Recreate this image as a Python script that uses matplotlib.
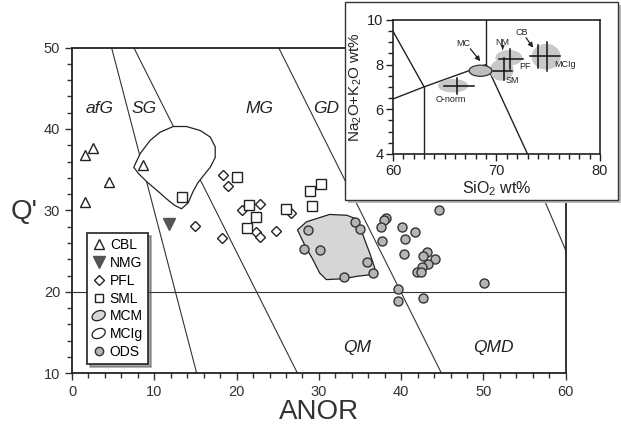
import matplotlib
matplotlib.use("Agg")
import matplotlib.pyplot as plt
from matplotlib.lines import Line2D
from matplotlib.patches import Polygon, Ellipse, Rectangle, Patch
from matplotlib.legend_handler import HandlerPatch
from matplotlib.ticker import MultipleLocator

plt.rcParams['font.family'] = ['Liberation Sans', 'DejaVu Sans']
plt.rcParams['mathtext.fontset'] = 'custom'
plt.rcParams['mathtext.rm'] = 'Liberation Sans'

# ---- data: Q' vs ANOR ----
cbl_x = [1.6, 2.5, 4.5, 1.6, 8.6]
cbl_y = [36.8, 37.7, 33.5, 31.0, 35.6]
nmg_x = [11.8]
nmg_y = [28.3]
pfl_x = [18.4, 18.9, 14.9, 18.2, 20.7, 22.9, 22.4, 22.8, 24.8, 26.6]
pfl_y = [34.3, 33.0, 28.1, 26.6, 30.1, 30.8, 27.4, 26.7, 27.5, 29.7]
sml_x = [20.0, 13.4, 21.5, 22.4, 21.3, 26.0, 28.9, 30.3, 29.2]
sml_y = [34.1, 31.7, 30.7, 29.2, 27.8, 30.2, 32.4, 33.3, 30.5]
ods_x = [28.7, 28.2, 30.1, 34.4, 35.0, 35.9, 36.6, 33.1, 38.2, 37.9, 37.5, 37.7,
         40.1, 40.5, 41.7, 40.3, 43.1, 42.6, 44.1, 43.3, 42.5, 41.9, 42.4, 44.6,
         50.1, 39.6, 39.6, 42.7]
ods_y = [27.6, 25.2, 25.1, 28.6, 27.7, 23.7, 22.3, 21.8, 29.1, 28.8, 27.9, 26.2,
         27.9, 26.5, 27.4, 24.7, 24.9, 24.4, 24.0, 23.4, 23.1, 22.4, 22.4, 30.0,
         21.1, 20.4, 18.9, 19.2]

# MCM field (grey) and MCIg field (outline)
mcm_x = [27.4, 28.5, 31.3, 33.4, 34.4, 35.0, 35.6, 36.2, 36.8, 36.3, 34.6, 33.0,
         30.9, 30.1, 29.3, 28.3]
mcm_y = [27.6, 28.6, 29.5, 29.4, 29.0, 28.0, 26.3, 24.7, 22.9, 22.1, 21.9, 21.6,
         21.5, 22.3, 23.9, 25.7]
mclg_x = [7.5, 8.3, 9.5, 10.7, 12.3, 13.9, 15.6, 16.8, 17.4, 17.4, 16.8, 16.0,
          15.3, 14.7, 14.1, 13.3, 12.5, 11.5, 10.5, 9.1, 8.1]
mclg_y = [35.3, 37.0, 38.6, 39.6, 40.3, 40.3, 39.8, 39.0, 37.8, 36.5, 35.3, 34.3,
          33.4, 32.3, 30.9, 30.2, 30.6, 31.4, 32.3, 33.5, 34.5]

# field boundaries
bnd_x = [[4.8, 15.15], [7.5, 27.4], [25.1, 44.9], [49.5, 60.0], [0, 60]]
bnd_y = [[50, 10], [50, 10], [50, 10], [50, 25.1], [20, 20]]
field_names = ["afG", "SG", "MG", "GD", "QM", "QMD"]
field_x = [3.3, 8.75, 22.8, 30.9, 34.7, 51.2]
field_y = [42.5, 42.5, 42.5, 42.5, 13.1, 13.1]

# ---- inset: TAS ----
tas_x = [[60, 63], [63, 63], [60, 63, 69], [69, 69], [69, 73]]
tas_y = [[9.48, 7.0], [7.0, 4.0], [6.46, 7.0, 8.0], [8.0, 10.0], [8.0, 4.0]]
blob_x = [65.8, 70.5, 71.2, 74.8]
blob_y = [7.05, 7.75, 8.3, 8.35]
blob_w = [2.9, 2.3, 2.6, 2.8]
blob_h = [0.6, 0.95, 0.7, 1.15]
cross_h = [(64.9, 67.8, 7.05), (69.7, 71.5, 7.72), (70.2, 72.6, 8.24), (73.2, 76.1, 8.39)]
cross_v = [(66.2, 6.7, 7.4), (70.7, 7.3, 8.3), (71.3, 7.8, 8.7), (74.0, 7.85, 8.85), (74.9, 7.7, 9.0)]
inset_labels = ["MC", "NM", "PF", "SM", "CB", "MCIg", "O-norm"]
inset_lx = [66.8, 70.6, 72.75, 71.5, 72.4, 76.6, 65.6]
inset_ly = [8.95, 8.98, 7.9, 7.3, 9.45, 7.98, 6.45]

LINE = "#333333"


class HandlerBlob(HandlerPatch):
    def create_artists(self, legend, orig_handle, xdescent, ydescent, width, height, fontsize, trans):
        e = Ellipse((width / 2 - xdescent, height / 2 - ydescent), width * 1.0, height * 0.95,
                    angle=25)
        self.update_prop(e, orig_handle, legend)
        e.set_transform(trans)
        return [e]


fig = plt.figure(figsize=(6.21, 4.30), dpi=100)
ax = fig.add_axes([0.116, 0.132, 0.795, 0.7575])

for bx, by in zip(bnd_x, bnd_y):
    ax.plot(bx, by, color=LINE, lw=0.8, zorder=1)

ax.add_patch(Polygon(list(zip(mclg_x, mclg_y)), closed=True, fc="white", ec="#222222",
                     lw=0.9, joinstyle="round", zorder=2))
ax.add_patch(Polygon(list(zip(mcm_x, mcm_y)), closed=True, fc="#d6d6d6", ec="#222222",
                     lw=0.9, joinstyle="round", zorder=2))

ax.plot(cbl_x, cbl_y, "^", ms=7.5, mfc="white", mec="#222222", mew=1.0, ls="none", zorder=3)
ax.plot(nmg_x, nmg_y, "v", ms=8, mfc="#555555", mec="#555555", ls="none", zorder=3)
ax.plot(pfl_x, pfl_y, "D", ms=5.5, mfc="white", mec="#222222", mew=1.0, ls="none", zorder=3)
ax.plot(sml_x, sml_y, "s", ms=6.5, mfc="white", mec="#222222", mew=1.0, ls="none", zorder=3)
ax.plot(ods_x, ods_y, "o", ms=6.5, mfc="#b5b5b5", mec="#333333", mew=1.0, ls="none", zorder=3)

for name, fx, fy in zip(field_names, field_x, field_y):
    ax.text(fx, fy, name, style="italic", fontsize=12.5, ha="center", va="center", color="#222222")

ax.set_xlim(0, 60)
ax.set_ylim(10, 50)
ax.xaxis.set_major_locator(MultipleLocator(10))
ax.xaxis.set_minor_locator(MultipleLocator(2))
ax.yaxis.set_major_locator(MultipleLocator(10))
ax.yaxis.set_minor_locator(MultipleLocator(2))
ax.tick_params(which="both", direction="out", labelsize=10.5, colors="#333333")
ax.tick_params(which="major", length=5, width=1.0)
ax.tick_params(which="minor", length=3.5, width=1.0)
for s in ax.spines.values():
    s.set_linewidth(1.3)
    s.set_color("#222222")

ax.set_xlabel("ANOR", fontsize=20, color="#333333")
ax.xaxis.set_label_coords(0.5, -0.118)
ax.xaxis.label.set_va("center")
ax.set_ylabel("Q'", fontsize=20, rotation=0, color="#333333")
ax.yaxis.set_label_coords(-0.097, 0.495)
ax.yaxis.label.set_va("center")
ax.yaxis.label.set_ha("center")

handles = [
    Line2D([], [], marker="^", ms=7, mfc="white", mec="#222222", ls="none"),
    Line2D([], [], marker="v", ms=8, mfc="#555555", mec="#555555", ls="none"),
    Line2D([], [], marker="D", ms=5.5, mfc="white", mec="#222222", ls="none"),
    Line2D([], [], marker="s", ms=5.5, mfc="white", mec="#222222", ls="none"),
    Patch(fc="#d6d6d6", ec="#222222", lw=0.9),
    Patch(fc="white", ec="#222222", lw=0.9),
    Line2D([], [], marker="o", ms=6, mfc="#b5b5b5", mec="#333333", ls="none"),
]
labels = ["CBL", "NMG", "PFL", "SML", "MCM", "MCIg", "ODS"]
leg = ax.legend(handles, labels, loc="lower left", bbox_to_anchor=(0.03, 0.028),
                fontsize=10, handlelength=1.0, handletextpad=0.3, labelspacing=0.28,
                borderpad=0.35, borderaxespad=0, fancybox=False, shadow=True,
                framealpha=1, edgecolor="#222222",
                handler_map={Patch: HandlerBlob()})
leg.get_frame().set_linewidth(1.2)

# ---- inset ----
fig.patches.append(Rectangle((0.561, 0.528), 0.4396, 0.461, transform=fig.transFigure,
                             fc="#bbbbbb", ec="none", zorder=4, figure=fig))
fig.patches.append(Rectangle((0.5556, 0.535), 0.4396, 0.461, transform=fig.transFigure,
                             fc="white", ec="#333333", lw=1.0, zorder=5, figure=fig))

ins = fig.add_axes([0.633, 0.642, 0.333, 0.312], zorder=6)
for tx, ty in zip(tas_x, tas_y):
    ins.plot(tx, ty, color="#222222", lw=1.0, zorder=1)
for bx, by, bw, bh in zip(blob_x, blob_y, blob_w, blob_h):
    ins.add_patch(Ellipse((bx, by), bw, bh, fc="#c8c8c8", ec="none", hatch="....", zorder=2))
ins.add_patch(Ellipse((68.45, 7.72), 2.2, 0.5, fc="#bdbdbd", ec="#333333", lw=0.9, zorder=3))
for x0, x1, yy in cross_h:
    ins.plot([x0, x1], [yy, yy], color="#111111", lw=1.1, zorder=4)
for xx, y0, y1 in cross_v:
    ins.plot([xx, xx], [y0, y1], color="#111111", lw=1.1, zorder=4)
for t, lx, ly in zip(inset_labels, inset_lx, inset_ly):
    ins.text(lx, ly, t, fontsize=6.5, ha="center", va="center", color="#222222", zorder=5)
ins.annotate("", xy=(68.6, 8.05), xytext=(67.3, 8.8),
             arrowprops=dict(arrowstyle="-|>", color="#222222", lw=0.9, mutation_scale=7))
ins.annotate("", xy=(73.7, 8.65), xytext=(72.7, 9.3),
             arrowprops=dict(arrowstyle="-|>", color="#222222", lw=0.9, mutation_scale=7))
ins.annotate("", xy=(70.6, 8.55), xytext=(70.6, 8.82),
             arrowprops=dict(arrowstyle="-|>", color="#222222", lw=0.7, mutation_scale=5))

ins.set_xlim(60, 80)
ins.set_ylim(4, 10)
ins.xaxis.set_major_locator(MultipleLocator(10))
ins.xaxis.set_minor_locator(MultipleLocator(1))
ins.yaxis.set_major_locator(MultipleLocator(2))
ins.yaxis.set_minor_locator(MultipleLocator(0.5))
ins.tick_params(which="both", direction="out", labelsize=10.5, colors="#222222", pad=2)
ins.tick_params(which="major", length=5, width=1.0)
ins.tick_params(which="minor", length=3.5, width=1.0)
for s in ins.spines.values():
    s.set_linewidth(1.2)
    s.set_color("#222222")
ins.set_xlabel("SiO$_2$ wt%", fontsize=11.5, labelpad=1, color="#222222")
ins.set_ylabel("Na$_2$O+K$_2$O wt%", fontsize=11, labelpad=2, color="#222222")

fig.savefig("out.png", dpi=100, facecolor="white")
